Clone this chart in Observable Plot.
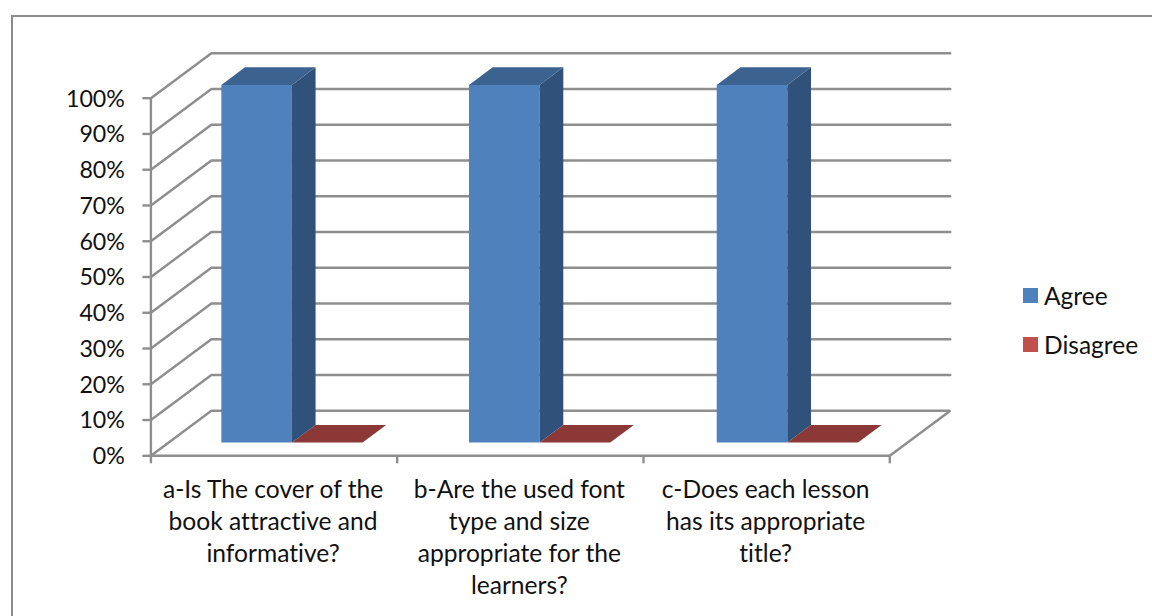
<!DOCTYPE html>
<html>
<head>
<meta charset="utf-8">
<script src="https://cdn.jsdelivr.net/npm/d3@7"></script>
<script src="https://cdn.jsdelivr.net/npm/@observablehq/plot@0.6"></script>
<style>
html,body{margin:0;padding:0;background:#fff;}
#wrap{position:relative;width:1152px;height:616px;overflow:hidden;font-variant-ligatures:none;}
#frame{position:absolute;left:11px;top:15px;width:1145px;height:610px;border:2px solid #8c8c8c;box-sizing:border-box;}
#legend{position:absolute;left:1023px;top:279px;font:24.5px Lato,sans-serif;color:#111;font-variant-ligatures:none;}
#legend div{display:flex;align-items:center;height:32px;margin-bottom:17px;}
#legend div:last-child{margin-bottom:0;}
#legend i{display:block;width:15px;height:15px;margin-right:6px;}
svg text{font-family:Lato,sans-serif;font-variant-ligatures:none;}
</style>
</head>
<body>
<div id="wrap"><div id="frame"></div><div id="plot"></div><div id="legend"></div></div>
<script>
const categories = [
  "a-Is The cover of the\nbook attractive and\ninformative?",
  "b-Are the used font\ntype and size\nappropriate for the\nlearners?",
  "c-Does each lesson\nhas its appropriate\ntitle?"
];
const agree = [1, 1, 1];
const disagree = [0, 0, 0];
const seriesNames = ["Agree", "Disagree"];
const seriesColors = ["#4f81bd", "#c0504d"];
const ticks = [0, .1, .2, .3, .4, .5, .6, .7, .8, .9, 1];
const barSlots = [0, 1.0057, 2.0114];

// Oblique projection: depth in [0,1] shifts a point along both data axes.
const depthX = 0.2456, depthY = 0.1258;
const barStart = 0.2132, barWidth = 0.2867, depthNear = 0.296, depthFar = 0.687;
const P = (c, v, d) => ({x: c + d * depthX, y: v + d * depthY});

const poly = (id, fill, pts) => pts.map(([c, v, d]) => ({id, fill, ...P(c, v, d)}));
const faces = [];
categories.forEach((_, i) => {
  const a = barSlots[i] + barStart, b = a + barWidth, c2 = b + barWidth;
  const h = agree[i], r = disagree[i];
  const n = depthNear, f = depthFar;
  faces.push(...poly(`dt${i}`, "#8c3836", [[b,r,n],[c2,r,n],[c2,r,f],[b,r,f]]));
  faces.push(...poly(`af${i}`, "#4f81bd", [[a,0,n],[b,0,n],[b,h,n],[a,h,n]]));
  faces.push(...poly(`as${i}`, "#305179", [[b,0,n],[b,0,f],[b,h,f],[b,h,n]]));
  faces.push(...poly(`at${i}`, "#3c6290", [[a,h,n],[b,h,n],[b,h,f],[a,h,f]]));
});

const grid = ticks.flatMap(t => {
  if (t === 0) return [
    {id: "g0", ...P(0, 0, 0)}, {id: "g0", ...P(0, 0, 1)}, {id: "g0", ...P(3, 0, 1)}, {id: "g0", ...P(3, 0, 0)}
  ];
  return [{id: "g" + t, ...P(0, t, 0)}, {id: "g" + t, ...P(0, t, 1)}, {id: "g" + t, ...P(3, t, 1)}];
});
const labels = categories.map((label, i) => ({label, x: i + .5}));
const axisStyle = {stroke: "#8e8e8e", strokeWidth: 2.4, strokeOpacity: 1, label: null};

const plot = Plot.plot({
  width: 1152, height: 616,
  marginLeft: 150.4, marginRight: 262.7, marginTop: 97.7, marginBottom: 160.7,
  style: {background: "transparent", overflow: "visible"},
  x: {type: "linear", domain: [0, 3], axis: null},
  y: {type: "linear", domain: [0, 1], axis: null},
  marks: [
    Plot.line(grid, {x: "x", y: "y", z: "id", stroke: "#8e8e8e", strokeWidth: 2.4, strokeLinejoin: "miter"}),
    Plot.ruleY([0], {stroke: "#8e8e8e", strokeWidth: 2.4}),
    Plot.ruleX([0], {y1: 0, y2: 1, stroke: "#8e8e8e", strokeWidth: 2.4}),
    Plot.axisY({ticks, tickSize: 8, tickFormat: () => "", anchor: "left", ...axisStyle}),
    Plot.axisY({ticks, tickSize: 0, tickPadding: 26, dy: 1, tickFormat: d3.format(".0%"), fontSize: 23.2, color: "#111", anchor: "left", ...axisStyle}),
    Plot.axisX({ticks: [0, 1, 2, 3], tickSize: 8, tickFormat: () => "", anchor: "bottom", ...axisStyle}),
    Plot.line(faces, {x: "x", y: "y", z: "id", fill: "fill", stroke: "none"}),
    Plot.text(labels, {x: "x", frameAnchor: "bottom", text: "label", dx: -1, dy: 19.5, lineAnchor: "top", lineHeight: 32/24.6, fontSize: 24.6, fill: "#111"})
  ]
});
document.getElementById("plot").append(plot);

const legend = document.getElementById("legend");
seriesNames.forEach((name, i) => {
  const row = document.createElement("div");
  const sw = document.createElement("i");
  sw.style.background = seriesColors[i];
  row.append(sw, document.createTextNode(name));
  legend.append(row);
});
</script>
</body>
</html>
